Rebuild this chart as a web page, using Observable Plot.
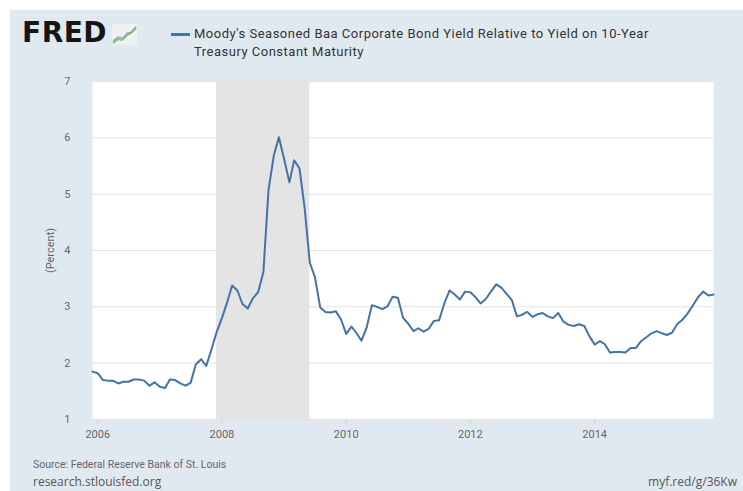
<!DOCTYPE html>
<html>
<head>
<meta charset="utf-8">
<script src="https://cdn.jsdelivr.net/npm/d3@7"></script>
<script src="https://cdn.jsdelivr.net/npm/@observablehq/plot@0.6"></script>
<style>
  body { margin: 0; background: #ffffff; font-family: Roboto, "Open Sans", sans-serif; }
  #card { position: absolute; left: 10px; top: 10px; width: 733px; height: 481px; background: #e1e9f0; overflow: hidden; }
  #logo { position: absolute; left: 12px; top: 6px; font-family: "DejaVu Sans", sans-serif; font-weight: bold; font-size: 28px; letter-spacing: 0.5px; color: #151515; line-height: 34px; }
  #icon { position: absolute; left: 102px; top: 14px; }
  #swatch { position: absolute; left: 161px; top: 23px; width: 19px; height: 3px; background: #4572a7; }
  #legend { position: absolute; left: 184px; top: 15px; font-size: 13px; letter-spacing: 0.5px; line-height: 18px; color: #333; white-space: nowrap; }
  #chart { position: absolute; left: 0; top: 60px; }
  #src { position: absolute; left: 23px; top: 448px; font-size: 10.5px; line-height: 14px; color: #666; }
  #site { position: absolute; left: 23px; top: 464px; font-family: "Open Sans", sans-serif; font-size: 12px; line-height: 16px; color: #555; }
  #url { position: absolute; right: 6px; top: 464px; font-family: "Open Sans", sans-serif; font-size: 12px; line-height: 16px; color: #555; white-space: nowrap; }
</style>
</head>
<body>
<div id="card">
  <div id="logo">FRED</div>
  <svg id="icon" width="25" height="21" viewBox="0 0 25 21">
    <rect x="0" y="0" width="25" height="21" fill="#eef1f3"/>
    <polyline points="1,19 6,15 10,16 15,11 19,9 24,3" fill="none" stroke="#8bbf5a" stroke-width="2"/>
    <polyline points="1,17 6,13 11,14 15,9 20,8 24,5" fill="none" stroke="#7fa7d6" stroke-width="1.2"/>
  </svg>
  <div id="swatch"></div>
  <div id="legend">Moody's Seasoned Baa Corporate Bond Yield Relative to Yield on 10-Year<br>Treasury Constant Maturity</div>
  <div id="chart"></div>
  <div id="src">Source: Federal Reserve Bank of St. Louis</div>
  <div id="site">research.stlouisfed.org</div>
  <div id="url">myf.red/g/36Kw</div>
</div>
<script>
// Monthly values (percent), starting December 2005
const firstMonth = "2005-12-01";
const v2005 = [1.85];
const v2006 = [1.82, 1.70, 1.69, 1.69, 1.64, 1.67, 1.67, 1.71, 1.71, 1.69, 1.60, 1.66];
const v2007 = [1.58, 1.56, 1.71, 1.70, 1.64, 1.60, 1.65, 1.98, 2.07, 1.95, 2.25, 2.55];
const v2008 = [2.80, 3.08, 3.38, 3.29, 3.05, 2.97, 3.15, 3.26, 3.62, 5.07, 5.68, 6.01];
const v2009 = [5.62, 5.21, 5.60, 5.46, 4.77, 3.78, 3.53, 2.99, 2.91, 2.90, 2.92, 2.78];
const v2010 = [2.52, 2.65, 2.54, 2.40, 2.63, 3.03, 3.00, 2.96, 3.01, 3.18, 3.16, 2.81];
const v2011 = [2.70, 2.57, 2.62, 2.56, 2.61, 2.75, 2.76, 3.06, 3.29, 3.22, 3.13, 3.27];
const v2012 = [3.26, 3.17, 3.06, 3.14, 3.27, 3.40, 3.34, 3.23, 3.12, 2.83, 2.86, 2.91];
const v2013 = [2.82, 2.87, 2.89, 2.83, 2.80, 2.89, 2.74, 2.68, 2.66, 2.69, 2.66, 2.48];
const v2014 = [2.33, 2.39, 2.34, 2.19, 2.20, 2.20, 2.19, 2.27, 2.27, 2.39, 2.46, 2.53];
const v2015 = [2.57, 2.53, 2.50, 2.54, 2.69, 2.77, 2.88, 3.02, 3.17, 3.27, 3.20, 3.22];

const recessionStart = ["2007-12-01"];
const recessionEnd = ["2009-06-01"];

const xTickYears = ["2006", "2008", "2010", "2012", "2014"];
const yTicks = [1, 2, 3, 4, 5, 6, 7];
const xDomain = ["2005-12-01", "2015-12-01"];

const values = [].concat(v2005, v2006, v2007, v2008, v2009, v2010, v2011, v2012, v2013, v2014, v2015);
const start = new Date(firstMonth + "T00:00:00Z");
const data = values.map((v, i) => ({date: d3.utcMonth.offset(start, i), value: v}));
const recessions = recessionStart.map((s, i) => ({start: new Date(s + "T00:00:00Z"), end: new Date(recessionEnd[i] + "T00:00:00Z")}));
const xTicks = xTickYears.map(y => new Date(y + "-01-01T00:00:00Z"));

const chart = Plot.plot({
  width: 733,
  height: 390,
  marginTop: 11,
  marginBottom: 41,
  marginLeft: 82,
  marginRight: 30,
  style: {background: "transparent", fontFamily: "Roboto, sans-serif", fontSize: "11px", color: "#666"},
  x: {type: "utc", domain: xDomain.map(d => new Date(d + "T00:00:00Z"))},
  y: {domain: [1, 7]},
  marks: [
    Plot.frame({fill: "white", stroke: null}),
    Plot.rect(recessions, {x1: "start", x2: "end", fill: "#e4e4e4"}),
    Plot.gridY(yTicks, {stroke: "#e2e2e2", strokeOpacity: 1}),
    Plot.axisY(yTicks, {tickSize: 0, tickPadding: 22, tickFormat: d3.format("d"), label: "(Percent)", labelAnchor: "center", labelArrow: "none", labelOffset: 46, fill: "#666"}),
    Plot.axisX(xTicks, {tickSize: 5, tickPadding: 6, tickFormat: d3.utcFormat("%Y"), stroke: "#c9d3dd", fill: "#666", label: null}),
    Plot.lineY(data, {x: "date", y: "value", stroke: "#4572a7", strokeWidth: 2})
  ]
});
document.getElementById("chart").appendChild(chart);
</script>
</body>
</html>
